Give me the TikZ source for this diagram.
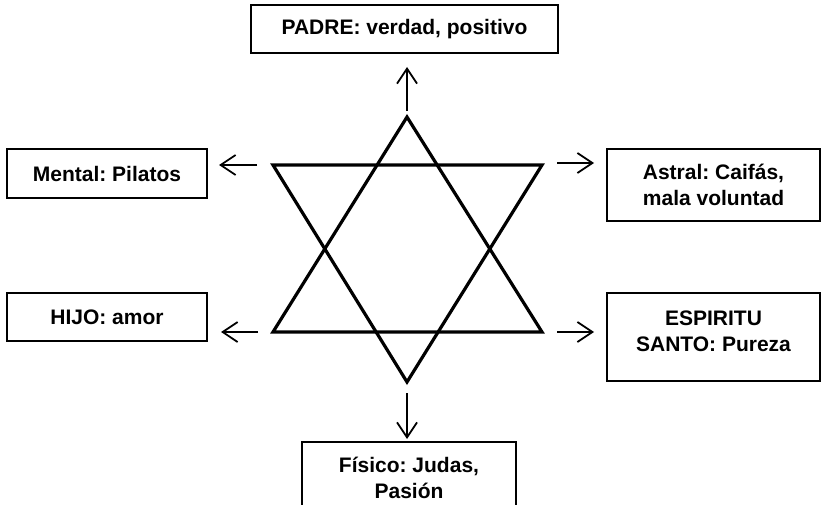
\documentclass[tikz,border=0pt]{standalone}
\usepackage{fontspec}
\setmainfont{Liberation Sans}
\usetikzlibrary{arrows.meta}
\frenchspacing
\begin{document}
\begin{tikzpicture}[x=1pt,y=-1pt,
  box/.style={draw, line width=1.3pt, inner sep=0pt, align=center,
    font=\bfseries\fontsize{21}{26}\selectfont},
  txt/.style={inner sep=0pt, align=center, font=\bfseries\fontsize{21}{26}\selectfont},
  starline/.style={line width=3.2pt, line join=miter},
  conn/.style={line width=1.8pt, -{Straight Barb[length=15pt,width=20pt,line width=1.8pt]}}]
\useasboundingbox (0,0) rectangle (821,505);
\clip (0,0) rectangle (821,505);
% star vertices
\coordinate (A) at (407,117);
\coordinate (B) at (273,332);
\coordinate (C) at (542,332);
\coordinate (D) at (273,165);
\coordinate (E) at (542,165);
\coordinate (F) at (407,382);
\draw[starline] (A) -- (B) -- (C) -- cycle;
\draw[starline] (D) -- (E) -- (F) -- cycle;
% boxes
\node[box, minimum width=307pt, minimum height=48pt] (padre) at (404.5,29) {PADRE: verdad, positivo};
\node[box, minimum width=200pt, minimum height=49pt] (mental) at (107,173.5) {Mental: Pilatos};
\node[box, minimum width=200pt, minimum height=48pt] (hijo) at (107,317) {HIJO: amor};
\node[box, minimum width=213pt, minimum height=72pt] (astral) at (713.5,185) {Astral: Caifás,\\mala voluntad};
\node[box, minimum width=213pt, minimum height=88pt] (espiritu) at (713.5,337) {};
\node[txt] (espiritutxt) at (713.5,331) {ESPIRITU\\SANTO: Pureza};
\node[box, minimum width=214pt, minimum height=72pt] (fisico) at (409,478) {Físico: Judas,\\Pasión};
% arrow endpoints
\coordinate (upS) at (407,111);  \coordinate (upE) at (407,67);
\coordinate (mS) at (257,165);   \coordinate (mE) at (219,165);
\coordinate (hS) at (258,332);   \coordinate (hE) at (221,332);
\coordinate (aS) at (557,163);   \coordinate (aE) at (594,163);
\coordinate (eS) at (557,332);   \coordinate (eE) at (594,332);
\coordinate (dS) at (407,393);   \coordinate (dE) at (407,439);
\draw[conn] (upS) -- (upE);
\draw[conn] (mS) -- (mE);
\draw[conn] (hS) -- (hE);
\draw[conn] (aS) -- (aE);
\draw[conn] (eS) -- (eE);
\draw[conn] (dS) -- (dE);
\end{tikzpicture}
\end{document}
